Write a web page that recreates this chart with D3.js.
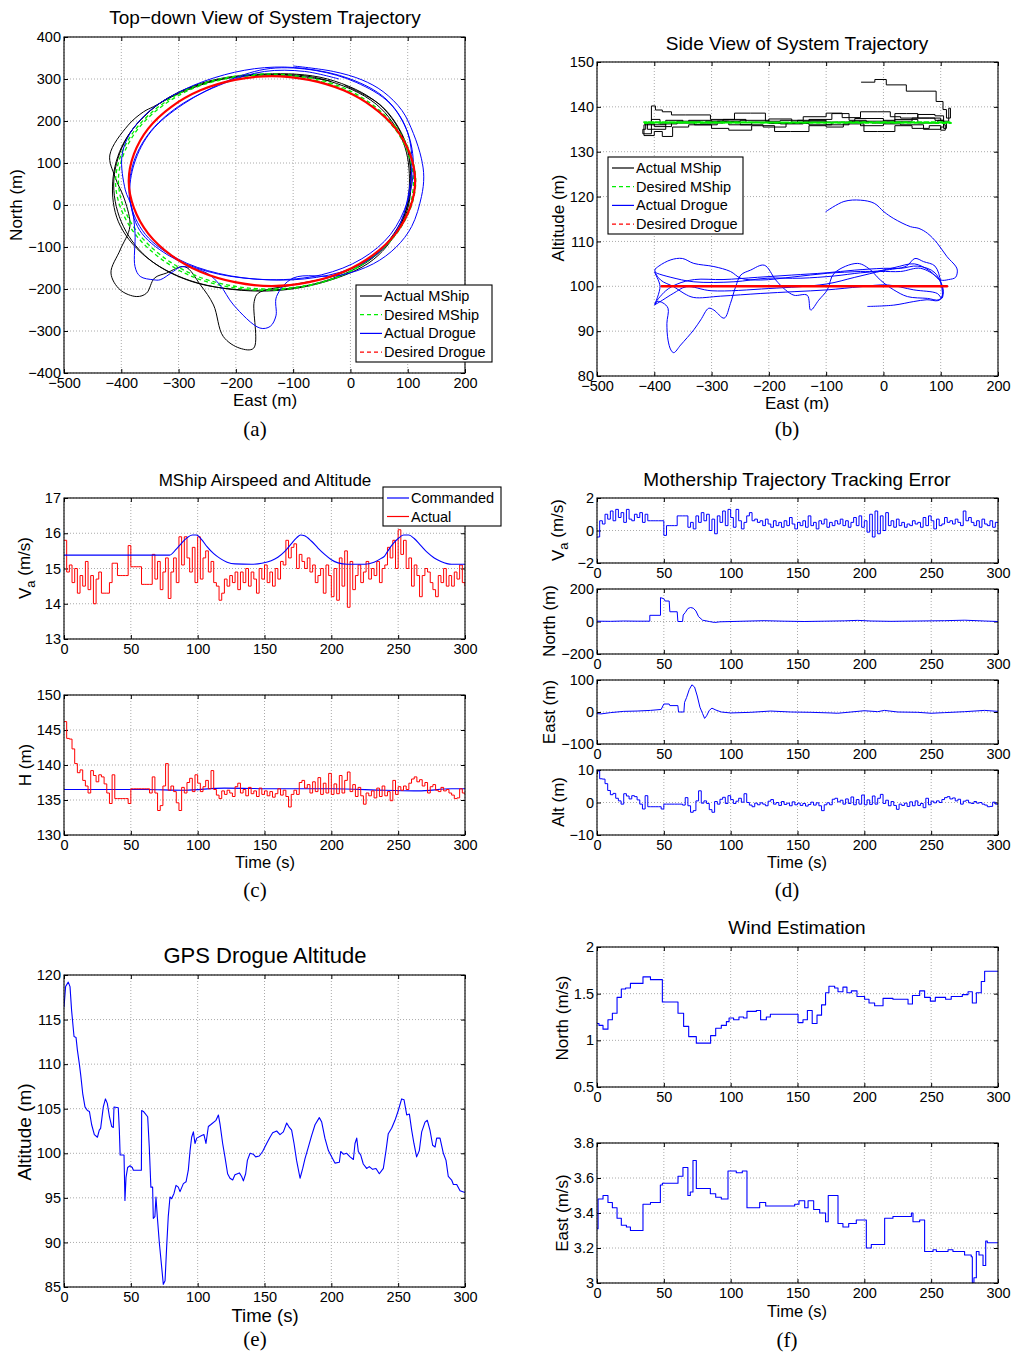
<!DOCTYPE html>
<html>
<head>
<meta charset="utf-8">
<script src="https://cdn.jsdelivr.net/npm/d3@7"></script>
<style>
  body { margin: 0; background: #fff; }
  svg { display: block; }
</style>
</head>
<body>
<div id="fig"></div>
<script>
// ---------- data ----------

// (a) top-down view, [east, north]
const topMshipDesiredA = [[114,55],[79,186],[-17,282],[-148,312],[-277,280],[-373,184],[-410,55],[-373,-74],[-277,-170],[-148,-203],[-19,-170],[77,-74]];
const topMshipDesiredB = [[110,58],[76,184],[-16,278],[-145,309],[-272,279],[-368,186],[-405,60],[-370,-68],[-274,-166],[-146,-200],[-16,-168],[79,-70]];
const topDrogueDesired = [[113,57],[79,182],[-12,273],[-137,307],[-262,273],[-353,182],[-387,57],[-353,-68],[-262,-159],[-137,-193],[-12,-159],[79,-68]];
const topMshipActual = [[-35,295],[-80,305],[-150,310],[-230,298],[-300,265],[-344,234],[-361,222],[-388,190],[-420,119],[-411,67],[-394,12],[-385,-51],[-402,-107],[-418,-162],[-402,-202],[-373,-218],[-356,-210],[-342,-174],[-321,-162],[-289,-147],[-262,-190],[-239,-238],[-222,-313],[-193,-341],[-169,-341],[-168,-230],[-161,-210],[-100,-190],[-20,-165],[50,-110],[95,-20],[105,60],[95,150],[50,240],[-40,300],[-150,312],[-260,290],[-340,235],[-395,150],[-415,55],[-405,-40],[-360,-120],[-280,-180],[-160,-205],[-50,-185],[40,-130],[90,-40],[103,50],[92,150],[45,240],[-50,300],[-155,310],[-255,290],[-335,240],[-390,160],[-413,60],[-400,-40],[-355,-125],[-275,-183],[-160,-203],[-50,-183],[40,-125],[93,-35],[106,55],[96,150],[55,235],[-10,285]];
const topDrogueActual = [[-100,331],[-30,318],[20,298],[57,270],[90,225],[110,170],[124,110],[128,67],[124,20],[107,-51],[80,-100],[40,-140],[-20,-168],[-100,-174],[-129,-218],[-130,-264],[-140,-289],[-158,-293],[-204,-238],[-228,-190],[-251,-162],[-295,-147],[-309,-158],[-332,-178],[-344,-178],[-367,-170],[-376,-147],[-376,-67],[-382,-4],[-393,36],[-399,115],[-385,170],[-350,225],[-290,275],[-220,310],[-150,327],[-80,325],[0,300],[60,255],[95,190],[107,120],[103,40],[88,-40],[52,-110],[0,-152],[-80,-176],[-170,-176],[-250,-158],[-320,-118],[-368,-60],[-385,20],[-377,100],[-348,175],[-292,240],[-212,297],[-140,325],[-60,320],[10,292],[68,243],[100,172],[110,92],[100,10],[70,-70],[20,-128],[-50,-166],[-140,-178],[-230,-163],[-302,-128],[-358,-70],[-385,10],[-380,95],[-352,170],[-300,235],[-220,290],[-150,318],[-80,318],[-20,300]];

// (b) side view, [east, altitude]
const sideMshipActual = [[-39,145.5],[-15,146.1],[5,144.9],[40,143.5],[69,143.5],[92,141.2],[104,139.4],[110,137.5],[117,139.7],[114,136.8],
  [100,137.5],[80,137.5],[60,138.5],[40,138.5],[20,137],[0,136.8],[-30,137],[-60,138.5],[-90,137.2],[-130,136.6],[-160,137.3],[-200,136.5],[-240,137.2],[-280,136.4],[-320,136.8],[-360,136.2],[-390,137.2],[-405,136],[-418,134],
  [-418,133.6],[-400,134.5],[-386,133.4],[-368,133.4],[-368,135.5],[-340,136],[-300,135.2],[-270,134.8],[-230,135.8],[-190,134.5],[-162,134.5],[-130,135.8],[-100,135.5],[-70,136.2],[-34,134.5],[-10,134.5],[20,135.8],[50,135.2],[80,135.8],[100,134.8],[108,136],
  [105,138],[90,138.3],[60,137.5],[30,137.8],[12,138.9],[-11,138.9],[-40,137.6],[-72,138.6],[-100,137.8],[-140,137],[-180,136.8],[-206,138.6],[-232,138.6],[-260,137.2],[-302,138.2],[-345,138.2],[-370,138.9],[-386,139.3],[-398,140.2],[-405,136.5],[-415,135],
  [-420,134],[-405,136],[-380,137],[-350,136.5],[-310,136.8],[-270,136],[-230,136.6],[-180,136.2],[-140,136.8],[-100,136],[-60,136.7],[-20,136.4],[20,137.2],[60,136.4],[95,137],[105,135.5],
  [100,135],[70,136],[30,136.2],[0,135.8],[-40,136.5],[-90,136],[-130,136.3],[-170,135.5],[-210,136],[-250,136.8],[-290,136],[-330,136.4],[-370,135.6],[-400,136.2],[-412,135],
  [-380,136.5],[-340,137],[-300,136.8],[-250,137],[-200,136.3],[-150,137],[-100,136.6],[-50,137.4],[0,136.8],[50,137.5],[90,137],[105,135.2],[110,136.5]];
const sideMshipDesired = [[-418,136.4],[118,136.6],[-418,136.5],[118,136.5],[-418,136.6],[118,136.4],[-418,136.5]];
const sideDrogueActual = [[-101,116.6],[-69,118.9],[-40,119.2],[-16,118.5],[1,116.6],[18,115.1],[47,113.3],[62,112.9],[77,111.8],[94,109.6],[111,106.6],[126,104.5],[129,103.6],[126,102],[114,101.5],[100,101.4],
  [80,103.5],[54,105],[20,104.2],[-10,103.4],[-40,103.3],[-98,102.9],[-156,102.1],[-214,101.4],[-249,101.8],[-267,103.3],[-296,104.4],[-331,105.1],[-351,106.2],[-371,105.9],[-392,104.5],[-399,103.6],
  [-389,101.4],[-366,99.9],[-348,98.4],[-331,97.5],[-284,97.8],[-214,98.4],[-156,98.8],[-98,99.2],[-40,99.9],[7,100.3],[53,99.2],[94,98.4],[102,97.3],[104,99.5],
  [95,101.8],[65,104],[30,103.3],[-5,103.3],[-40,103],[-86,102.3],[-144,101.8],[-203,101.8],[-261,101],[-331,101],[-371,102],[-395,102.9],[-399,103.2],
  [-390,100],[-399,95.8],[-395,96.6],[-385,96.3],[-376,95.1],[-378,91.7],[-376,88],[-371,85.8],[-366,85.2],[-354,86.9],[-331,90.3],[-319,92.5],[-305,95.1],[-296,94.7],[-278,92.9],[-267,96.2],[-258,99.9],[-249,102.5],[-232,103.6],[-208,104.7],[-188,101.4],[-171,99.2],[-156,98],[-133,98],[-127,94.7],[-113,96.9],[-98,99.2],[-86,102.9],[-45,105.1],[-22,103.6],[-11,102.1],[1,100.7],[18,99.2],[42,97.7],[77,97.3],[97,97],[104,98.5],
  [90,103],[60,104.5],[30,104],[0,104],[-50,103.6],[-100,103],[-160,102.5],[-220,102],[-280,101.5],[-330,101.5],[-360,100.5],[-380,99],[-399,96],
  [-367,98.4],[-344,99.9],[-300,99],[-200,99.5],[-100,100.5],[-50,102],[0,103.5],[40,104.5],[55,106.2],[70,105.5],[90,104.5],[100,101],[102,97.5],[95,96.8],[76,97],[53,96.6],[18,95.8],[-28,95.5]];
const sideDrogueDesired = [[-387,100],[111,100],[-387,100],[111,100],[-387,100]];

// (c) airspeed and altitude, sampled every 2 s
const sampleStep = 2;
const timeTicks = [0, 50, 100, 150, 200, 250, 300];
const vaCommanded = [[0,15.38],[79,15.38],[84,15.55],[88,15.72],[92,15.87],[96,15.95],[99,15.95],[103,15.82],[107,15.62],[112,15.42],[117,15.28],[122,15.18],[128,15.13],[140,15.12],[148,15.15],[155,15.22],[160,15.32],[165,15.48],[170,15.7],[174,15.87],[177,15.95],[180,15.93],[185,15.78],[190,15.58],[195,15.4],[200,15.25],[205,15.16],[212,15.12],[225,15.12],[232,15.18],[237,15.28],[240,15.36],[241,15.42],[245,15.65],[250,15.85],[254,15.95],[258,15.95],[262,15.85],[267,15.65],[272,15.45],[277,15.3],[282,15.2],[290,15.12],[300,15.12]];
const vaActual = [15.8,14.9,15.1,14.6,15.0,14.3,14.8,14.5,15.2,14.4,
  14.8,14.0,14.7,14.9,14.3,14.3,14.3,14.6,15.15,15.15,
  14.8,14.8,14.8,14.8,15.65,15.05,15.05,15.05,15.05,14.55,
  14.55,14.55,14.55,15.4,14.7,15.2,14.4,14.9,15.3,14.15,
  14.9,15.3,14.6,15.9,15.1,15.9,15.3,14.9,15.6,14.6,
  15.9,14.7,15.3,15.5,14.9,15.2,14.6,14.5,14.1,14.3,
  14.7,14.5,14.8,14.6,14.9,14.4,14.9,14.6,15.0,14.5,
  14.9,14.7,14.3,15.0,14.7,15.1,14.6,14.9,14.5,15.0,
  14.7,15.2,15.1,15.8,15.3,15.6,15.7,15.0,15.4,15.2,
  15.0,15.3,14.9,15.1,14.6,14.8,15.0,14.3,15.1,14.8,
  14.2,15.0,14.1,15.3,14.5,15.5,13.9,15.2,14.4,14.8,
  15.1,14.6,14.9,15.2,14.7,15.0,14.8,15.2,14.6,15.0,
  15.1,15.6,15.3,15.8,15.0,16.1,15.4,15.8,15.0,15.3,
  14.5,15.1,14.8,14.2,14.8,15.0,14.9,14.6,14.4,14.2,
  14.8,14.6,15.0,14.5,14.8,14.5,14.9,14.7,15.1,14.6,
  14.5];
const hCommanded = [[0,136.5],[60,136.5],[90,136.4],[120,136.7],[160,136.6],[200,136.6],[240,136.4],[265,136.3],[290,136.6],[300,136.6]];
const hActual = [146.2,143.8,143.7,142.3,140.2,138.9,139.3,137.8,137.0,136.0,
  139.2,138.5,137.6,138.6,138.3,137.3,136.0,134.5,138.6,135.2,
  135.2,135.2,135.2,135.2,134.5,136.6,136.6,136.6,136.6,136.6,
  136.6,136.6,136.0,138.3,136.0,133.5,134.2,137.0,140.2,136.4,
  137.0,136.2,134.6,133.5,136.8,136.0,137.5,138.1,136.2,138.6,
  137.4,136.2,136.9,137.8,136.6,139.2,136.5,135.7,135.2,136.3,
  135.8,136.4,136.0,135.5,136.9,137.4,136.0,136.5,135.6,136.8,
  135.9,136.3,135.5,136.7,135.8,136.3,135.6,136.2,135.4,135.9,
  136.6,135.7,136.4,135.5,134.0,135.8,136.4,135.8,137.5,137.8,
  136.7,137.2,136.0,137.6,136.2,138.2,135.8,137.4,136.0,138.8,
  135.8,137.3,135.9,138.5,136.0,137.8,139.0,136.2,137.2,135.5,
  136.8,135.6,134.4,136.0,135.6,136.3,135.3,136.7,135.5,137.0,
  135.6,136.2,134.9,137.8,135.8,136.9,136.4,137.0,136.5,137.4,
  138.0,138.3,137.6,137.9,137.0,137.5,136.0,136.9,137.2,136.4,
  136.2,136.8,136.3,136.5,136.0,135.7,135.2,135.3,136.6,136.0,
  135.8];

// (d) tracking errors
const vaError = [-0.4,0.6,0.4,1.0,0.7,1.2,0.6,1.3,0.8,1.1,
  0.5,1.3,0.7,0.6,1.0,0.8,1.1,0.5,1.0,0.6,
  0.6,0.6,0.6,0.6,0.6,-0.3,0.3,0.3,0.3,0.3,
  0.9,0.9,0.9,0.9,0.2,0.5,0.1,0.9,0.5,1.1,
  0.6,1.0,0.0,0.7,-0.2,0.9,0.5,1.2,0.3,1.3,
  0.8,0.2,1.3,0.6,0.1,0.5,0.9,1.1,0.6,0.7,
  0.5,0.6,0.3,0.7,0.4,0.2,0.6,0.3,0.5,0.2,
  0.6,0.3,0.8,0.4,0.1,0.5,0.3,0.6,0.2,0.9,
  0.3,0.5,0.1,0.6,0.4,0.7,0.2,0.5,0.3,0.6,
  0.4,0.7,0.3,0.6,0.2,0.5,0.8,0.3,0.9,0.2,
  0.6,-0.1,1.0,-0.4,1.2,-0.2,0.9,0.0,1.1,0.3,
  0.6,0.2,0.7,0.3,0.5,0.2,0.4,0.3,0.6,0.4,
  0.5,0.2,0.8,0.3,0.9,0.6,0.1,0.7,0.3,0.4,
  0.8,0.5,0.6,0.4,0.7,0.5,0.3,1.2,0.6,0.8,
  0.5,0.3,0.6,0.2,0.7,0.4,0.3,0.6,0.2,0.5,
  0.5];
const northError = [[0,2],[10,1],[20,3],[30,2],[39.5,2],[39.5,38],[47.5,38],[47.5,147],[50,140],[51,126],[54,126],[54.5,60],[60,60],[60.5,0],[64,0],[64.5,40],[66,55],[68,80],[70,86],[72,82],[74,65],[76,30],[79,8],[84,0],[88,-6],[92,-2],[110,2],[125,5],[140,2],[155,0],[170,2],[185,4],[195,7],[205,3],[220,1],[240,3],[260,5],[275,8],[290,3],[300,0]];
const eastError = [[0,-5],[3,-6],[10,-2],[20,2],[30,3],[40,5],[48,8],[50,25],[54,25],[54.5,20],[60.5,20],[61,0],[65,0],[65.5,30],[67,45],[69,70],[71,85],[73,78],[75,50],[77,15],[79,-5],[80.5,-20],[82,-12],[84,5],[86,12],[89,6],[93,0],[100,-3],[115,-1],[130,3],[145,0],[160,-1],[175,-3],[180,-4],[190,0],[200,4],[210,1],[215,5],[225,0],[240,-1],[250,-4],[260,-2],[275,1],[290,5],[300,2]];
const altError = [9.7,7.3,7.2,5.8,3.7,2.4,2.8,1.3,0.5,-0.5,
  2.7,2.0,1.1,2.1,1.8,0.8,-0.5,-2.0,2.1,-1.3,
  -1.3,-1.3,-1.3,-1.3,-2.0,-0.5,-0.5,-0.5,-0.5,-0.5,
  -0.5,-0.5,-0.8,1.5,-1.0,-3.0,-2.5,0.5,3.6,-0.2,
  0.5,-0.3,-2.2,-3.0,0.3,-0.5,1.0,1.6,-0.3,2.1,
  0.9,-0.3,0.4,1.3,0.1,2.7,0.0,-0.8,-1.3,-0.2,
  -0.7,-0.1,-0.5,-1.0,0.4,0.9,-0.5,0.0,-0.9,0.3,
  -0.6,-0.2,-1.0,0.2,-0.7,-0.2,-0.9,-0.3,-1.1,-0.6,
  0.1,-0.8,-0.1,-1.0,-2.5,-0.7,-0.1,-0.7,1.0,1.3,
  0.2,0.7,-0.5,1.1,-0.3,1.7,-0.7,0.9,-0.5,2.3,
  -0.7,0.8,-0.6,2.0,-0.5,1.3,2.5,-0.3,0.7,-1.0,
  0.3,-0.9,-2.1,-0.5,-0.9,-0.2,-1.2,0.2,-1.0,0.5,
  -0.9,-0.3,-1.6,1.3,-0.7,0.4,-0.1,0.5,0.0,0.9,
  1.5,1.8,1.1,1.4,0.5,1.0,-0.5,0.4,0.7,-0.1,
  -0.3,0.3,-0.2,0.0,-0.5,-0.8,-1.3,-1.2,0.1,-0.5,
  -0.7];

// (e) GPS drogue altitude, [t, alt]
const drogueAlt = [[0,116.4],[1.2,118.7],[3.2,119.2],[4.5,118.7],[5.7,116],[7.5,113.1],[9,113],[10,111.6],[11.5,110],[12.5,108.8],[14,106.7],[15.7,105.2],[17.5,104.8],[19,104.7],[20.7,103.2],[22.7,102.1],[25,101.8],[26.4,102.6],[27.4,102.8],[29.4,105.2],[31,106.1],[32.4,105.6],[34,104.1],[35.7,103],[36.9,102.9],[37.4,105.2],[40.6,105.1],[41.4,102.6],[42,99.8],[44.9,99.8],[45.6,94.7],[46.4,97.3],[47.6,98.4],[49.4,98.6],[51.1,98.4],[51.9,98.1],[57.9,98.1],[58.1,104.8],[59.4,104.7],[62.6,104.1],[63.8,100.7],[65,96.2],[66.3,96.2],[66.8,92.7],[68,92.9],[68.8,95.1],[69.8,92.9],[71.3,90],[73.1,87.2],[74.3,85.3],[75.6,85.7],[76.8,89.5],[78,92.9],[79.3,95.1],[80.5,94.9],[82.3,95.5],[83.8,96.4],[85.5,96.2],[86.8,95.7],[89.3,96.6],[91.3,96.8],[93,98.1],[94.3,100.3],[95.5,101.8],[96.8,102.4],[98,101.1],[99.3,101.7],[103,102],[104.7,102.1],[106.2,101.1],[108,103],[109.7,103.2],[113.7,103.7],[115.5,104.3],[116.7,103.3],[118.7,101.1],[120.4,99.6],[122.4,97.7],[124.2,97.2],[126.2,97],[127.9,97.6],[131.2,97.8],[132.9,97.4],[134.2,96.9],[135.9,97.7],[137.2,99.2],[139.2,100],[141.6,99.9],[143.4,99.6],[146.1,99.7],[148.6,100.2],[151.6,101.1],[154.1,101.8],[156.1,102.3],[159.1,102.5],[161.6,102.1],[164.1,102.4],[166.6,103.4],[168.6,102.9],[170.3,102.6],[172.1,101.1],[174,99.2],[176.6,97.2],[178.6,98.3],[180.3,99.4],[182.8,100.7],[185.3,102],[187.8,103.2],[191,104],[192.8,103.5],[195.2,101.7],[197.8,100.3],[200.2,99.6],[202.7,98.9],[206,99],[207,100.2],[209,99.9],[211.5,100],[214,99.6],[216.5,99.3],[217.7,101.1],[219,101.7],[220.2,100.2],[222,99.8],[223.9,98.8],[226.4,98.3],[228.4,98.5],[230.9,98.2],[233.4,98.3],[235.9,97.7],[238.9,98.3],[240.9,100.3],[242.6,102.2],[245.1,102.8],[247.6,103.7],[250.1,104.8],[252.6,106.1],[254.4,106],[256.4,104.3],[258.4,104.4],[260.1,102.6],[261.8,101.1],[263.8,99.6],[265.8,100.3],[267.6,102.4],[270.1,103.5],[271.8,103.7],[273.8,102.6],[275.8,100.9],[277.6,100.7],[278.8,101.7],[281.3,101.7],[283.8,100],[285.8,99.2],[287.5,97.4],[290,97],[291.3,96.5],[293.8,96.5],[296.3,95.8],[300,95.6]];

// (f) wind estimation, step values [t, v]
const windNorth = [[0,1.18],[1.5,1.16],[4.5,1.12],[8.2,1.22],[11.5,1.29],[15,1.46],[18.2,1.55],[21.4,1.56],[25,1.61],[34.4,1.68],[40,1.65],[48.9,1.41],[60.6,1.29],[64.8,1.15],[68.6,1.04],[74.3,0.97],[85,1.05],[88.8,1.13],[93,1.16],[96.8,1.2],[98.8,1.24],[102.2,1.22],[106.2,1.25],[109.7,1.24],[112.2,1.31],[119.2,1.32],[122.4,1.22],[126.7,1.25],[129.7,1.28],[147.9,1.28],[150.4,1.19],[154.1,1.22],[157.4,1.32],[161,1.18],[164.6,1.27],[168,1.38],[171,1.51],[173.5,1.58],[177.8,1.56],[180.3,1.52],[184,1.57],[187,1.51],[190.3,1.53],[194.5,1.47],[200.2,1.44],[203.5,1.4],[207.7,1.37],[214,1.45],[221.4,1.44],[232.7,1.39],[236,1.48],[241.4,1.53],[245.1,1.46],[249.4,1.42],[253.1,1.46],[260.8,1.44],[265,1.47],[273.3,1.49],[277.6,1.52],[280.8,1.4],[283.8,1.51],[287.5,1.63],[290,1.74],[300,1.74]];
const windEast = [[0,3.31],[0.8,3.48],[4.5,3.5],[8.2,3.46],[11.5,3.43],[15,3.37],[18.2,3.33],[22,3.32],[25,3.3],[34.4,3.45],[40,3.46],[47.4,3.56],[48.9,3.57],[60.6,3.61],[64.3,3.66],[68,3.5],[69.8,3.52],[71.8,3.7],[74.3,3.54],[84.8,3.51],[88.8,3.49],[93,3.48],[98,3.64],[104.2,3.63],[108.7,3.64],[112.2,3.43],[121.7,3.46],[126.2,3.44],[147.9,3.45],[151.1,3.47],[155.4,3.43],[157.9,3.47],[162.1,3.42],[166.6,3.4],[171,3.35],[173,3.5],[176.6,3.5],[180.3,3.34],[184,3.32],[188.3,3.34],[194,3.36],[201.5,3.2],[205.2,3.22],[215.2,3.37],[221.4,3.38],[235.2,3.4],[236.4,3.35],[241.4,3.36],[245.1,3.18],[251.4,3.19],[253.9,3.18],[262.6,3.19],[266.3,3.18],[275,3.16],[280,3.15],[280.8,3.0],[282,3.03],[283.8,3.18],[285.8,3.16],[288.8,3.1],[290.8,3.24],[292,3.23],[300,3.23]];

// ---------- drawing ----------
const W = 1013, H = 1354;
const font = "'Liberation Sans', Arial, Helvetica, sans-serif";
const svg = d3.select("#fig").append("svg").attr("width", W).attr("height", H)
    .style("background", "#fff");
const defs = svg.append("defs");
let clipId = 0;

// one MATLAB style axes: box, dotted grid, inward ticks
function makeAxes(box, xDom, yDom, xTicks, yTicks, xLabels, yLabels) {
    const x = d3.scaleLinear().domain(xDom).range([box.l, box.r]);
    const y = d3.scaleLinear().domain(yDom).range([box.b, box.t]);
    const g = svg.append("g");

    g.selectAll(".gx").data(xTicks).join("line")
        .attr("x1", d => x(d)).attr("x2", d => x(d))
        .attr("y1", box.t).attr("y2", box.b)
        .attr("stroke", "#aaa").attr("stroke-dasharray", "1,2");
    g.selectAll(".gy").data(yTicks).join("line")
        .attr("x1", box.l).attr("x2", box.r)
        .attr("y1", d => y(d)).attr("y2", d => y(d))
        .attr("stroke", "#aaa").attr("stroke-dasharray", "1,2");

    const styleAxis = a => a.attr("font-size", 14.5).attr("font-family", font)
        .call(s => s.select(".domain").remove())
        .call(s => s.selectAll("text").attr("fill", "#000"));

    g.append("g").attr("transform", `translate(0,${box.b})`)
        .call(d3.axisBottom(x).tickValues(xTicks).tickFormat((d, i) => xLabels[i]).tickSize(-4).tickPadding(5))
        .call(styleAxis);
    g.append("g").attr("transform", `translate(${box.l},0)`)
        .call(d3.axisLeft(y).tickValues(yTicks).tickFormat((d, i) => yLabels[i]).tickSize(-4).tickPadding(3))
        .call(styleAxis);
    g.append("g").attr("transform", `translate(0,${box.t})`)
        .call(d3.axisTop(x).tickValues(xTicks).tickFormat("").tickSize(-4))
        .call(styleAxis);
    g.append("g").attr("transform", `translate(${box.r},0)`)
        .call(d3.axisRight(y).tickValues(yTicks).tickFormat("").tickSize(-4))
        .call(styleAxis);

    const id = "clip" + (clipId++);
    defs.append("clipPath").attr("id", id).append("rect")
        .attr("x", box.l).attr("y", box.t).attr("width", box.r - box.l).attr("height", box.b - box.t);
    const plot = svg.append("g").attr("clip-path", `url(#${id})`);

    // frame drawn last so it sits on top of the lines
    const frame = () => svg.append("rect")
        .attr("x", box.l).attr("y", box.t).attr("width", box.r - box.l).attr("height", box.b - box.t)
        .attr("fill", "none").attr("stroke", "#000").attr("stroke-width", 1.1);
    return {x, y, plot, frame};
}

function drawLine(ax, data, color, width, dash, curve) {
    const line = d3.line().x(d => ax.x(d[0])).y(d => ax.y(d[1])).curve(curve || d3.curveLinear);
    ax.plot.append("path").datum(data)
        .attr("fill", "none").attr("stroke", color).attr("stroke-width", width)
        .attr("stroke-dasharray", dash || null).attr("stroke-linejoin", "round")
        .attr("d", line);
}

const sampled = arr => arr.map((v, i) => [i * sampleStep, v]);

function text(x, y, str, size, opts = {}) {
    const t = svg.append("text").attr("x", x).attr("y", y)
        .attr("font-family", opts.family || font).attr("font-size", size)
        .attr("text-anchor", opts.anchor || "middle").attr("dominant-baseline", "central")
        .text(str);
    if (opts.rotate) t.attr("transform", `rotate(-90,${x},${y})`);
    return t;
}

function caption(x, y, str) {
    text(x, y, str, 21, {family: "'Liberation Serif', 'DejaVu Serif', serif"});
}

function legend(x, y, w, h, rowH, items) {
    const g = svg.append("g");
    g.append("rect").attr("x", x).attr("y", y).attr("width", w).attr("height", h)
        .attr("fill", "#fff").attr("stroke", "#000").attr("stroke-width", 1.1);
    items.forEach((it, i) => {
        const cy = y + 11 + i * rowH;
        g.append("line").attr("x1", x + 4).attr("x2", x + 26).attr("y1", cy).attr("y2", cy)
            .attr("stroke", it.color).attr("stroke-width", 1.2)
            .attr("stroke-dasharray", it.dash || null);
        g.append("text").attr("x", x + 28).attr("y", cy)
            .attr("font-family", font).attr("font-size", 14.5)
            .attr("dominant-baseline", "central").text(it.label);
    });
}

const eastTicks = [-500, -400, -300, -200, -100, 0, 100, 200];
const eastLabels = ["−500", "−400", "−300", "−200", "−100", "0", "100", "200"];
const timeLabels = ["0", "50", "100", "150", "200", "250", "300"];
const dashed = "4,3";

// (a) top-down view
const axA = makeAxes({l: 64, r: 465, t: 37, b: 373}, [-500, 200], [-400, 400], eastTicks,
    [-400, -300, -200, -100, 0, 100, 200, 300, 400], eastLabels,
    ["−400", "−300", "−200", "−100", "0", "100", "200", "300", "400"]);
drawLine(axA, topMshipActual, "#000", 1, null, d3.curveCatmullRom);
drawLine(axA, topMshipDesiredA, "#00ee00", 1.3, dashed, d3.curveCardinalClosed);
drawLine(axA, topMshipDesiredB, "#00ee00", 1.3, dashed, d3.curveCardinalClosed);
drawLine(axA, topDrogueActual, "#0000ff", 1, null, d3.curveCatmullRom);
drawLine(axA, topDrogueDesired, "#ff0000", 2.2, null, d3.curveCardinalClosed);
axA.frame();
text(265, 17, "Top−down View of System Trajectory", 19);
text(265, 400, "East (m)", 17);
text(16, 205, "North (m)", 17, {rotate: true});
caption(255, 429, "(a)");
legend(356, 285, 136, 77, 18.7, [
    {label: "Actual MShip", color: "#000"},
    {label: "Desired MShip", color: "#00ee00", dash: dashed},
    {label: "Actual Drogue", color: "#0000ff"},
    {label: "Desired Drogue", color: "#ff0000", dash: dashed}
]);

// (b) side view
const axB = makeAxes({l: 597, r: 998, t: 62, b: 376}, [-500, 200], [80, 150], eastTicks,
    [80, 90, 100, 110, 120, 130, 140, 150], eastLabels,
    ["80", "90", "100", "110", "120", "130", "140", "150"]);
drawLine(axB, sideMshipActual, "#000", 1, null, d3.curveStepAfter);
drawLine(axB, sideMshipDesired, "#00ee00", 1.8, dashed);
drawLine(axB, sideDrogueActual, "#0000ff", 1, null, d3.curveCatmullRom);
drawLine(axB, sideDrogueDesired, "#ff0000", 2.4, dashed);
axB.frame();
text(797, 43, "Side View of System Trajectory", 19);
text(797, 403, "East (m)", 17);
text(558, 218, "Altitude (m)", 17, {rotate: true});
caption(787, 429, "(b)");
legend(608, 157, 135, 77, 18.7, [
    {label: "Actual MShip", color: "#000"},
    {label: "Desired MShip", color: "#00ee00", dash: dashed},
    {label: "Actual Drogue", color: "#0000ff"},
    {label: "Desired Drogue", color: "#ff0000", dash: dashed}
]);

// (c) mothership airspeed and altitude
const axC1 = makeAxes({l: 64, r: 465, t: 498, b: 639}, [0, 300], [13, 17], timeTicks,
    [13, 14, 15, 16, 17], timeLabels, ["13", "14", "15", "16", "17"]);
drawLine(axC1, sampled(vaActual), "#ff0000", 1, null, d3.curveStepAfter);
drawLine(axC1, vaCommanded, "#0000ff", 1.1, null, d3.curveMonotoneX);
axC1.frame();
text(265, 480, "MShip Airspeed and Altitude", 17);
const vaLabel = text(25, 568, "", 17, {rotate: true});
vaLabel.append("tspan").text("V");
vaLabel.append("tspan").attr("dy", "0.35em").attr("font-size", 13).text("a");
vaLabel.append("tspan").attr("dy", "-0.35em").text(" (m/s)");
legend(383, 487, 118, 39, 18.5, [
    {label: "Commanded", color: "#0000ff"},
    {label: "Actual", color: "#ff0000"}
]);

const axC2 = makeAxes({l: 64, r: 465, t: 695, b: 835}, [0, 300], [130, 150], timeTicks,
    [130, 135, 140, 145, 150], timeLabels, ["130", "135", "140", "145", "150"]);
drawLine(axC2, hCommanded, "#0000ff", 1.1, null, d3.curveMonotoneX);
drawLine(axC2, sampled(hActual), "#ff0000", 1, null, d3.curveStepAfter);
axC2.frame();
text(25, 765, "H (m)", 17, {rotate: true});
text(265, 862, "Time (s)", 16.5);
caption(255, 890, "(c)");

// (d) tracking error
const axD1 = makeAxes({l: 597, r: 998, t: 498, b: 563}, [0, 300], [-2, 2], timeTicks,
    [-2, 0, 2], timeLabels, ["−2", "0", "2"]);
drawLine(axD1, sampled(vaError), "#0000ff", 1, null, d3.curveStepAfter);
axD1.frame();
const vaeLabel = text(558, 530, "", 17, {rotate: true});
vaeLabel.append("tspan").text("V");
vaeLabel.append("tspan").attr("dy", "0.35em").attr("font-size", 13).text("a");
vaeLabel.append("tspan").attr("dy", "-0.35em").text(" (m/s)");

const axD2 = makeAxes({l: 597, r: 998, t: 589, b: 654}, [0, 300], [-200, 200], timeTicks,
    [-200, 0, 200], timeLabels, ["−200", "0", "200"]);
drawLine(axD2, northError, "#0000ff", 1);
axD2.frame();
text(549, 621, "North (m)", 17, {rotate: true});

const axD3 = makeAxes({l: 597, r: 998, t: 680, b: 744}, [0, 300], [-100, 100], timeTicks,
    [-100, 0, 100], timeLabels, ["−100", "0", "100"]);
drawLine(axD3, eastError, "#0000ff", 1);
axD3.frame();
text(549, 712, "East (m)", 17, {rotate: true});

const axD4 = makeAxes({l: 597, r: 998, t: 770, b: 835}, [0, 300], [-10, 10], timeTicks,
    [-10, 0, 10], timeLabels, ["−10", "0", "10"]);
drawLine(axD4, sampled(altError), "#0000ff", 1, null, d3.curveStepAfter);
axD4.frame();
text(558, 802, "Alt (m)", 17, {rotate: true});
text(797, 479, "Mothership Trajectory Tracking Error", 19);
text(797, 862, "Time (s)", 16.5);
caption(787, 890, "(d)");

// (e) GPS drogue altitude
const axE = makeAxes({l: 64, r: 465, t: 975, b: 1287}, [0, 300], [85, 120], timeTicks,
    [85, 90, 95, 100, 105, 110, 115, 120], timeLabels,
    ["85", "90", "95", "100", "105", "110", "115", "120"]);
drawLine(axE, drogueAlt, "#0000ff", 1.1);
axE.frame();
text(265, 955, "GPS Drogue Altitude", 22);
text(265, 1315, "Time (s)", 18.5);
text(24, 1132, "Altitude (m)", 19, {rotate: true});
caption(255, 1339, "(e)");

// (f) wind estimation
const axF1 = makeAxes({l: 597, r: 998, t: 947, b: 1087}, [0, 300], [0.5, 2], timeTicks,
    [0.5, 1, 1.5, 2], timeLabels, ["0.5", "1", "1.5", "2"]);
drawLine(axF1, windNorth, "#0000ff", 1.1, null, d3.curveStepAfter);
axF1.frame();
text(562, 1018, "North (m/s)", 17, {rotate: true});

const axF2 = makeAxes({l: 597, r: 998, t: 1143, b: 1283}, [0, 300], [3, 3.8], timeTicks,
    [3, 3.2, 3.4, 3.6, 3.8], timeLabels, ["3", "3.2", "3.4", "3.6", "3.8"]);
drawLine(axF2, windEast, "#0000ff", 1.1, null, d3.curveStepAfter);
axF2.frame();
text(562, 1213, "East (m/s)", 17, {rotate: true});
text(797, 927, "Wind Estimation", 19);
text(797, 1311, "Time (s)", 16.5);
caption(787, 1340, "(f)");
</script>
</body>
</html>
